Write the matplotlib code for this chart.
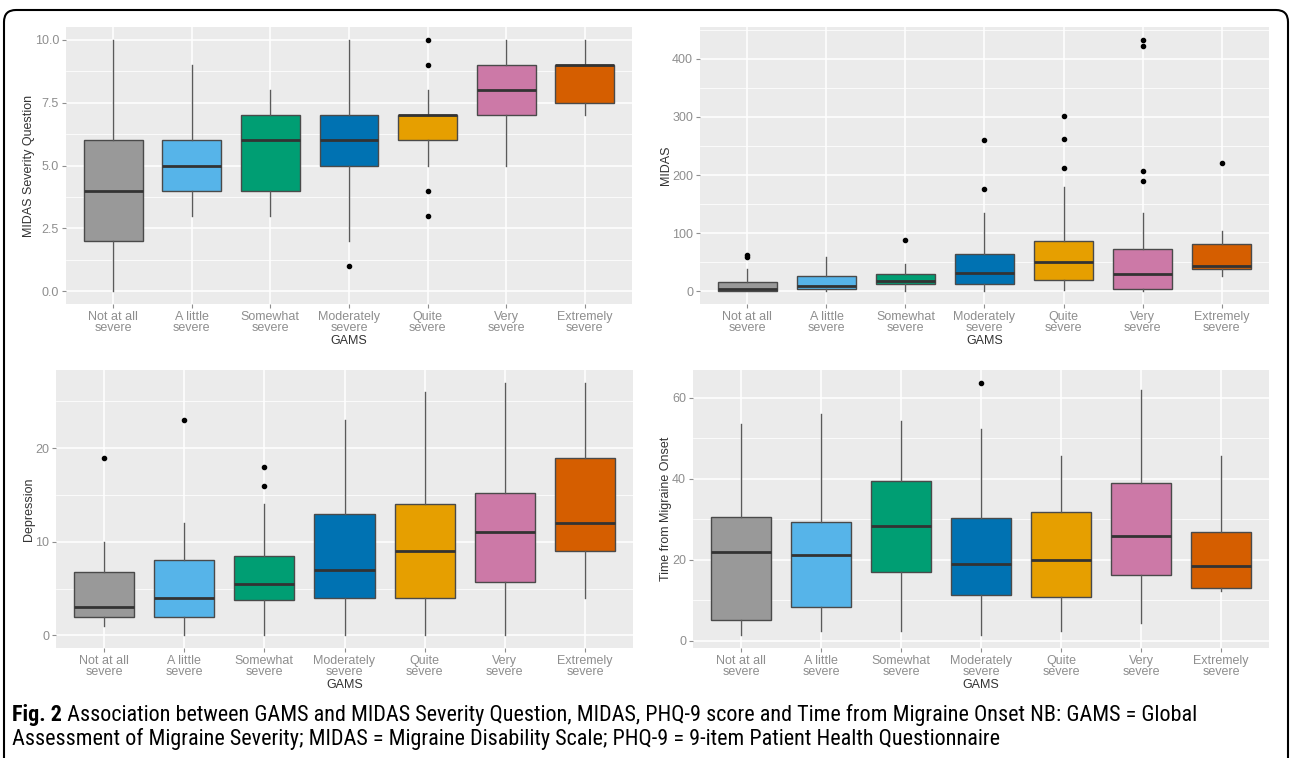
import numpy as np
import matplotlib
matplotlib.use('Agg')
import matplotlib.pyplot as plt
from matplotlib import font_manager
from matplotlib.patches import FancyBboxPatch
from matplotlib.transforms import IdentityTransform

W, H = 1290, 758

categories = ['Not at all\nsevere', 'A little\nsevere', 'Somewhat\nsevere', 'Moderately\nsevere',
              'Quite\nsevere', 'Very\nsevere', 'Extremely\nsevere']
colors = ['#999999', '#56B4E9', '#009E73', '#0072B2', '#E69F00', '#CC79A7', '#D55E00']

# MIDAS severity question
sev_lo = [0, 3, 3, 2, 5, 5, 7]
sev_q1 = [2, 4, 4, 5, 6, 7, 7.5]
sev_med = [4, 5, 6, 6, 7, 8, 9]
sev_q3 = [6, 6, 7, 7, 7, 9, 9]
sev_hi = [10, 9, 8, 10, 8, 10, 10]
sev_out = [[], [], [], [1], [10, 9, 4, 3], [], []]

# MIDAS score
mid_lo = [0, 1, 1, 1, 3, 1, 26]
mid_q1 = [0.5, 4, 12, 13, 19, 5, 38]
mid_med = [5, 10, 18, 31, 50, 30, 44]
mid_q3 = [17, 26, 30, 65, 87, 73, 82]
mid_hi = [38, 60, 47, 135, 180, 135, 104]
mid_out = [[60, 63], [], [88], [176, 260], [212, 262, 301], [190, 207, 422, 433], [220]]

# Depression (PHQ-9)
dep_lo = [1, 0, 0, 0, 0, 0, 4]
dep_q1 = [2, 2, 3.75, 4, 4, 5.75, 9]
dep_med = [3, 4, 5.5, 7, 9, 11, 12]
dep_q3 = [6.75, 8, 8.5, 13, 14, 15.25, 19]
dep_hi = [10, 12, 14, 23, 26, 27, 27]
dep_out = [[19], [23], [16, 18], [], [], [], []]

# Time from migraine onset
ons_lo = [1.4, 2.5, 2.3, 1.3, 2.3, 4.3, 12.2]
ons_q1 = [5.2, 8.2, 17, 11.2, 10.8, 16.3, 13]
ons_med = [22, 21.2, 28.3, 19, 20, 25.8, 18.5]
ons_q3 = [30.5, 29.3, 39.5, 30.2, 31.8, 39, 26.8]
ons_hi = [53.5, 56, 54.2, 52.2, 45.5, 62, 45.5]
ons_out = [[], [], [], [63.7], [], [], []]

panels = [
    # data, ylabel, yticks, yticklabels, pixel box (x0, y0, x1, y1), ylabel x pixel
    ((sev_lo, sev_q1, sev_med, sev_q3, sev_hi, sev_out), 'MIDAS Severity Question',
     [0, 2.5, 5, 7.5, 10], ['0.0', '2.5', '5.0', '7.5', '10.0'], (66, 27, 632, 304), 29),
    ((mid_lo, mid_q1, mid_med, mid_q3, mid_hi, mid_out), 'MIDAS',
     [0, 100, 200, 300, 400], ['0', '100', '200', '300', '400'], (700, 27, 1269, 304), 666),
    ((dep_lo, dep_q1, dep_med, dep_q3, dep_hi, dep_out), 'Depression',
     [0, 10, 20], ['0', '10', '20'], (56, 370, 633, 648), 29),
    ((ons_lo, ons_q1, ons_med, ons_q3, ons_hi, ons_out), 'Time from Migraine Onset',
     [0, 20, 40, 60], ['0', '20', '40', '60'], (693, 370, 1269, 648), 666),
]

plt.rcParams['font.family'] = ['Liberation Sans', 'DejaVu Sans']
fig = plt.figure(figsize=(W / 100, H / 100), dpi=100)

tick_grey = '#8e8e8e'
for (lo, q1, med, q3, hi, out), ylab, yt, ytl, (x0, y0, x1, y1), ylx in panels:
    ax = fig.add_axes([x0 / W, 1 - y1 / H, (x1 - x0) / W, (y1 - y0) / H])
    ax.set_facecolor('#EBEBEB')
    stats = []
    for i in range(len(categories)):
        stats.append(dict(whislo=lo[i], q1=q1[i], med=med[i], q3=q3[i], whishi=hi[i], fliers=out[i]))
    bp = ax.bxp(stats, positions=range(1, 8), widths=0.75, patch_artist=True, showcaps=False,
                boxprops=dict(edgecolor='#4a4a4a', linewidth=1.0),
                medianprops=dict(color='#333333', linewidth=2.0),
                whiskerprops=dict(color='#5a5a5a', linewidth=1.0),
                flierprops=dict(marker='o', markersize=3, markerfacecolor='black',
                                markeredgecolor='black'))
    for patch, c in zip(bp['boxes'], colors):
        patch.set_facecolor(c)

    ax.set_yticks(yt)
    ax.set_yticklabels(ytl)
    step = yt[1] - yt[0]
    ax.set_yticks([t + step / 2 for t in [yt[0] - step] + yt], minor=True)
    ax.set_xticks(range(1, 8))
    ax.set_xticklabels(categories, linespacing=0.95)

    # ggplot style expansion (set after ticks so the minor ticks do not widen it)
    allv = lo + hi + [v for o in out for v in o]
    vmin, vmax = min(allv), max(allv)
    pad = 0.05 * (vmax - vmin)
    ax.set_ylim(vmin - pad, vmax + pad)
    ax.set_xlim(0.4, 7.6)

    ax.set_axisbelow(True)
    ax.grid(True, which='major', color='white', linewidth=1.1)
    ax.grid(True, which='minor', axis='y', color='white', linewidth=0.55)
    ax.tick_params(which='major', length=3, width=0.8, color=tick_grey, labelcolor=tick_grey,
                   labelsize=9, pad=2)
    ax.tick_params(which='minor', length=0)
    for s in ax.spines.values():
        s.set_visible(False)

    ax.set_xlabel('GAMS', fontsize=9, color='#333333')
    ax.xaxis.label.set_va('center')
    ax.xaxis.set_label_coords(0.5, -(37 / (y1 - y0)))
    ax.set_ylabel(ylab, fontsize=9, color='#333333')
    ax.yaxis.label.set_va('center')
    ax.yaxis.set_label_coords((ylx - x0) / (x1 - x0), 0.5)


def wnum(w):
    if isinstance(w, str):
        return {'light': 300, 'normal': 400, 'regular': 400, 'book': 400, 'medium': 500,
                'semibold': 600, 'bold': 700}.get(w.lower(), 400)
    return int(w)


# caption font: a narrow family with a regular weight if one is installed
cap_name, cap_w = 'Open Sans', 400
for n in ['Open Sans Condensed', 'Roboto Condensed', 'Noto Sans Condensed', 'Liberation Sans Narrow',
          'DejaVu Sans Condensed']:
    ws = [wnum(f.weight) for f in font_manager.fontManager.ttflist if f.name == n]
    ws = [w for w in ws if w <= 450]
    if ws:
        cap_name = n
        cap_w = max(ws)
        break
cap_font = [cap_name, 'DejaVu Sans']

line1 = ' Association between GAMS and MIDAS Severity Question, MIDAS, PHQ-9 score and Time from Migraine Onset NB: GAMS = Global'
line2 = 'Assessment of Migraine Severity; MIDAS = Migraine Disability Scale; PHQ-9 = 9-item Patient Health Questionnaire'

fs = 12
base1, base2 = 37, 13
t_bold = fig.text(12 / W, base1 / H, 'Fig. 2', fontsize=fs, fontweight='bold', family=cap_font,
                  va='baseline', ha='left')
t_rest = fig.text(0, 0, line1, fontsize=fs, fontweight=cap_w, family=cap_font, va='baseline', ha='left')
r = fig.canvas.get_renderer()
wb = t_bold.get_window_extent(r).width
wr = t_rest.get_window_extent(r).width
fs = fs * (1184 / (wb + wr))
t_bold.set_fontsize(fs)
t_rest.set_fontsize(fs)
wb = t_bold.get_window_extent(r).width
t_rest.set_position(((12 + wb) / W, base1 / H))
fig.text(12 / W, base2 / H, line2, fontsize=fs, fontweight=cap_w, family=cap_font,
         va='baseline', ha='left')

# rounded frame, bottom edge falls outside the picture
frame = FancyBboxPatch((4, -60), 1284, H - 10 + 60, boxstyle='round,pad=0,rounding_size=12',
                       transform=IdentityTransform(), fill=False, edgecolor='black', linewidth=1.5)
fig.add_artist(frame)

fig.savefig('out.png', dpi=100, facecolor='white')
